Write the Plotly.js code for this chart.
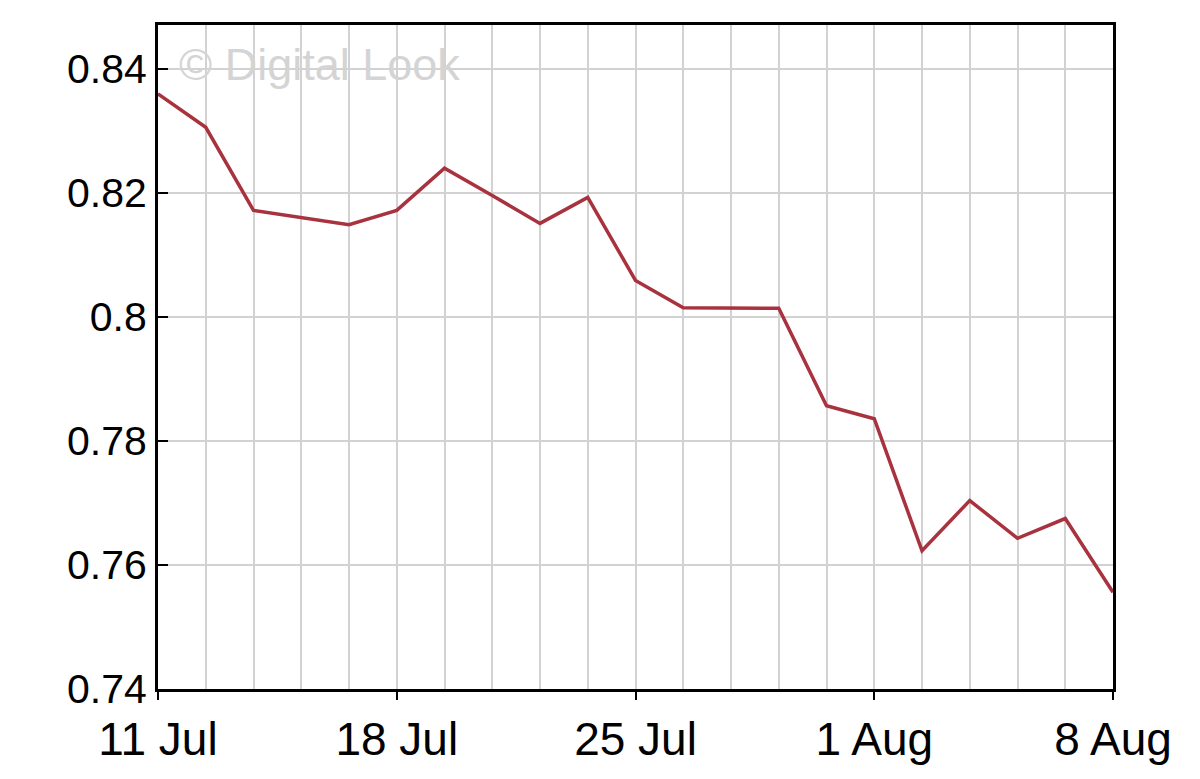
<!DOCTYPE html>
<html>
<head>
<meta charset="utf-8">
<script src="https://cdn.plot.ly/plotly-3.0.1.min.js"></script>
<style>html,body{margin:0;padding:0;background:#fff;}#chart{width:1200px;height:779px;}</style>
</head>
<body>
<div id="chart"></div>
<script>
// Trading days (weekdays) 11 Jul – 8 Aug 2011
const dates = ["2011-07-11","2011-07-12","2011-07-13","2011-07-14","2011-07-15",
  "2011-07-18","2011-07-19","2011-07-20","2011-07-21","2011-07-22",
  "2011-07-25","2011-07-26","2011-07-27","2011-07-28","2011-07-29",
  "2011-08-01","2011-08-02","2011-08-03","2011-08-04","2011-08-05",
  "2011-08-08"];
const prices = [0.8360,0.8306,0.8172,0.8161,0.8149,
  0.8172,0.8240,0.8196,0.8151,0.8193,
  0.8059,0.8015,0.8015,0.8014,0.7857,
  0.7836,0.7623,0.7704,0.7643,0.7675,
  0.7556];
const labelDates = ["2011-07-11","2011-07-18","2011-07-25","2011-08-01","2011-08-08"];
const labelText = ["11 Jul","18 Jul","25 Jul","1 Aug","8 Aug"];
const yTicks = [0.74,0.76,0.78,0.80,0.82,0.84];
const yRange = [0.74,0.8471];
const watermark = "© Digital Look";

const font = "Liberation Sans, Arial, sans-serif";
const traces = [
  {x: dates, y: prices, type: "scatter", mode: "lines", xaxis: "x", yaxis: "y",
   line: {color: "#a8323e", width: 3.5}, hoverinfo: "x+y"},
  {x: dates, y: prices, type: "scatter", mode: "lines", xaxis: "x2", yaxis: "y",
   line: {color: "rgba(0,0,0,0)", width: 0}, hoverinfo: "skip", showlegend: false}
];
const layout = {
  width: 1200, height: 779,
  margin: {l: 158, r: 87, t: 25, b: 90},
  paper_bgcolor: "#fff", plot_bgcolor: "#fff",
  showlegend: false,
  font: {family: font, color: "#000"},
  xaxis: {
    type: "category", categoryorder: "array", categoryarray: dates,
    range: [0, dates.length - 1],
    tickvals: dates, ticktext: dates.map(() => ""),
    ticks: "", showgrid: true, gridcolor: "#d2d2d2", gridwidth: 2,
    showline: true, linecolor: "#000", linewidth: 3, mirror: true,
    zeroline: false, fixedrange: true
  },
  xaxis2: {
    type: "category", categoryorder: "array", categoryarray: dates,
    overlaying: "x", matches: "x", side: "bottom", anchor: "y",
    range: [0, dates.length - 1],
    tickvals: labelDates, ticktext: labelText,
    ticks: "outside", ticklen: 10, tickwidth: 2, tickcolor: "#000",
    tickfont: {size: 46, family: font, color: "#000"},
    showgrid: false, showline: false, zeroline: false
  },
  yaxis: {
    range: yRange, tickvals: yTicks,
    ticktext: yTicks.map(v => String(+v.toFixed(2))),
    ticks: "inside", ticklen: 10, tickwidth: 2, tickcolor: "#000",
    tickfont: {size: 41, family: font, color: "#000"},
    showgrid: true, gridcolor: "#d2d2d2", gridwidth: 2,
    showline: true, linecolor: "#000", linewidth: 3, mirror: true,
    zeroline: false, fixedrange: true
  },
  annotations: [{
    text: watermark, xref: "paper", yref: "paper", x: 0.02, y: 0.94,
    xanchor: "left", yanchor: "middle", showarrow: false,
    font: {size: 45, family: font, color: "#d4d4d4"}
  }]
};
Plotly.newPlot("chart", traces, layout, {displayModeBar: false, staticPlot: true});
</script>
</body>
</html>
